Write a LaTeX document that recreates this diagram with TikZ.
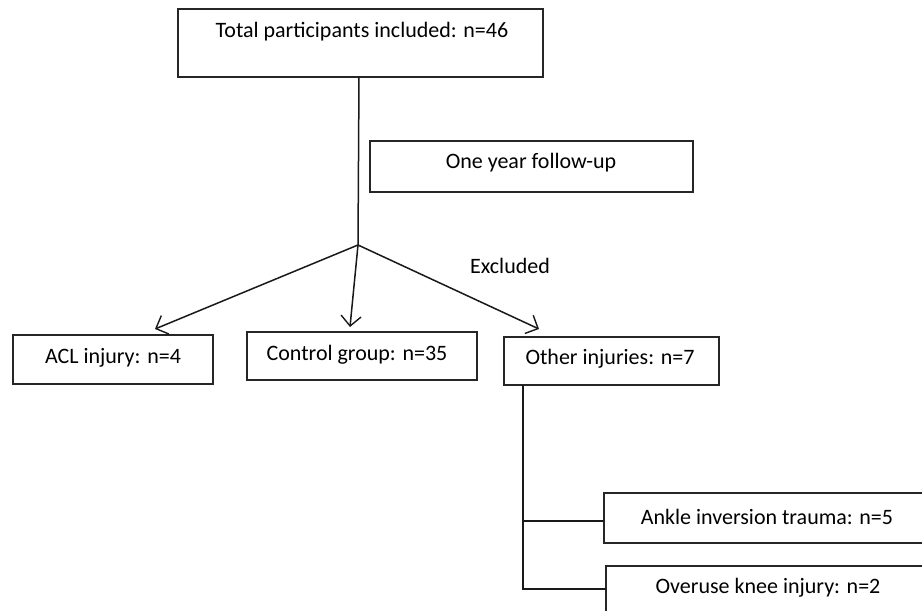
\documentclass[tikz,border=0pt]{standalone}
\usepackage{fontspec}
\setmainfont{Carlito}
\usetikzlibrary{arrows.meta}
\begin{document}
\begin{tikzpicture}[x=1pt,y=-1pt,
  box/.style={draw=black!85,line width=1.3pt},
  txt/.style={font=\fontsize{22}{24}\selectfont,inner sep=0pt,anchor=center},
  conn/.style={draw=black!90,line width=1.5pt},
  arr/.style={conn,-{Straight Barb[length=10pt,width=20pt,line width=1.4pt]}}]
\clip (0,0) rectangle (922,611);
\fill[white] (0,0) rectangle (922,611);
% boxes
\draw[box] (178,9) rectangle (543,77);
\node[txt] (ttotal) at (362,32) {Total participants included: n=46};
\coordinate (topb) at (359,77);
\draw[box] (370,141) rectangle (693,192);
\node[txt] (tfollow) at (531,163) {One year follow-up};
\coordinate (junc) at (358,245);
\node[txt] (texcl) at (510,266) {Excluded};
\draw[box] (13,335) rectangle (213,384);
\node[txt] (tacl) at (113,358) {ACL injury: n=4};
\draw[box] (247,332) rectangle (477,380);
\node[txt] (tctrl) at (357,355) {Control group: n=35};
\draw[box] (504,337) rectangle (719,385);
\node[txt] (tother) at (610,359) {Other injuries: n=7};
\draw[box] (604,493) rectangle (930,543);
\node[txt] (tankle) at (767,517) {Ankle inversion trauma: n=5};
\draw[box] (606,566) rectangle (930,620);
\node[txt] (tover) at (768,588) {Overuse knee injury: n=2};
% connectors
\coordinate (acltip) at (155,329);
\coordinate (ctrltip) at (350,327);
\coordinate (othertip) at (539,329);
\draw[conn] (topb) -- (junc);
\draw[arr] (junc) -- (acltip);
\draw[arr] (junc) -- (ctrltip);
\draw[arr] (junc) -- (othertip);
\coordinate (otherb) at (523,385);
\coordinate (br1) at (523,521);
\coordinate (br2) at (523,589);
\coordinate (ankl) at (604,521);
\coordinate (overl) at (606,589);
\draw[conn] (otherb) -- (br2) -- (overl);
\draw[conn] (br1) -- (ankl);
\end{tikzpicture}
\end{document}
